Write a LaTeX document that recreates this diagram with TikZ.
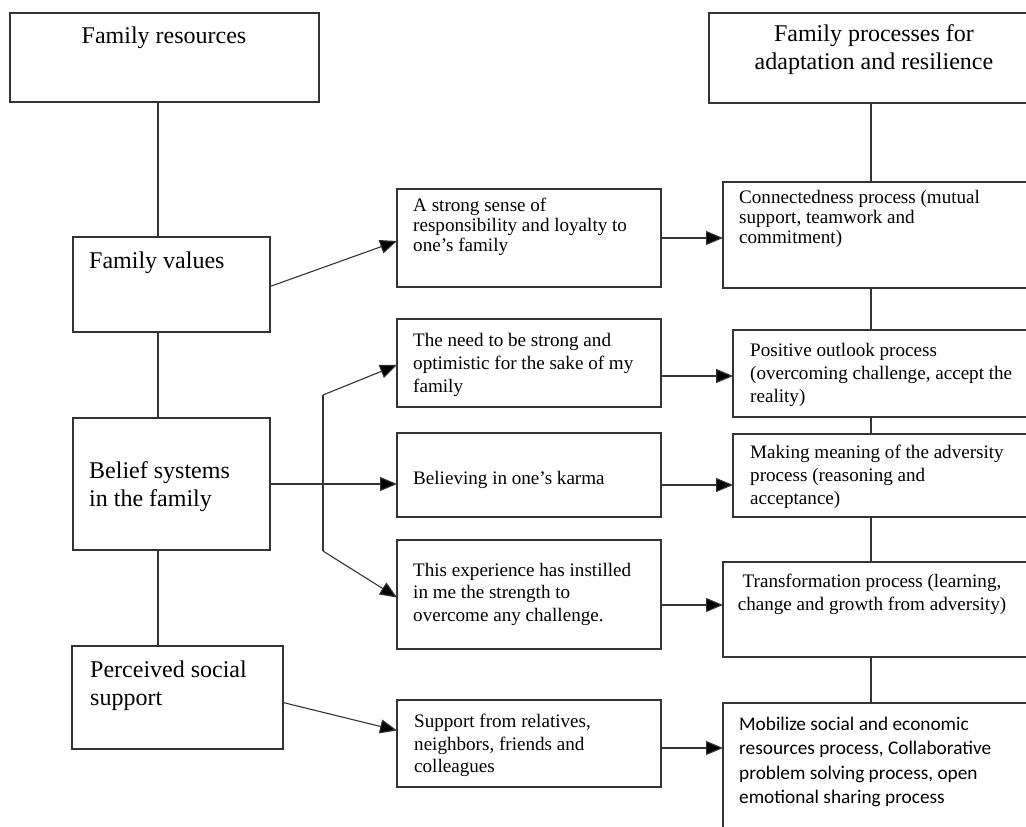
\documentclass[tikz,border=0pt]{standalone}
\usepackage{fontspec}
\setmainfont{Liberation Serif}
\newfontfamily\carlito{Carlito}
\usetikzlibrary{arrows.meta,calc}
\tikzset{
  box/.style={draw=black!80, line width=1.1pt, rectangle, inner sep=0pt, outer sep=0pt, anchor=north west},
  conn/.style={draw=black!80, line width=1.1pt},
  arr/.style={conn, -{Triangle[length=17pt,width=14pt,fill=black]}},
  big/.style={font=\fontsize{24}{28}\selectfont, inner sep=0pt, align=left, anchor=north west, text=black},
  small/.style={font=\fontsize{19.1}{#1}\selectfont, inner sep=0pt, align=left, anchor=north west, text=black},
  small/.default=20,
}
\begin{document}
\begin{tikzpicture}[x=1pt,y=-1pt]
\useasboundingbox (0,0) rectangle (1026,827);
\clip (0,0) rectangle (1026,827);
\fill[white] (0,0) rectangle (1026,827);
% left column
\node[box, minimum width=309pt, minimum height=89pt] (fr) at (10,13) {};
\node[box, minimum width=197pt, minimum height=95pt] (fv) at (73,237) {};
\node[box, minimum width=197pt, minimum height=132pt] (bs) at (73,418) {};
\node[box, minimum width=211pt, minimum height=103pt] (ps) at (72,646) {};
% middle column
\node[box, minimum width=264pt, minimum height=98pt] (mA) at (397,189) {};
\node[box, minimum width=264pt, minimum height=88pt] (mB) at (397,319) {};
\node[box, minimum width=264pt, minimum height=84pt] (mC) at (397,433) {};
\node[box, minimum width=264pt, minimum height=109pt] (mD) at (397,540) {};
\node[box, minimum width=264pt, minimum height=87pt] (mE) at (397,700) {};
% right column
\node[box, minimum width=340pt, minimum height=90pt] (rT) at (709,13) {};
\node[box, minimum width=330pt, minimum height=106pt] (rC) at (723,182) {};
\node[box, minimum width=320pt, minimum height=87pt] (rP) at (733,330) {};
\node[box, minimum width=320pt, minimum height=83pt] (rM) at (733,434) {};
\node[box, minimum width=330pt, minimum height=95pt] (rTr) at (723,562) {};
\node[box, minimum width=330pt, minimum height=160pt] (rB) at (723,703) {};
% texts
\node[big, anchor=center, align=center] (tfr) at (164,38) {Family resources};
\node[big, anchor=center, align=center] (trT) at (874,50) {Family processes for\\adaptation and resilience};
\node[big] (tfv) at (89,252) {Family values};
\node[big] (tbs) at (89,461) {Belief systems\\in the family};
\node[big] (tps) at (90,661) {Perceived social\\support};
\node[small=20] (tmA) at (413,198) {A strong sense of\\responsibility and loyalty to\\one's family};
\node[small=23] (tmB) at (413,333) {The need to be strong and\\optimistic for the sake of my\\family};
\node[small=23] (tmC) at (413,471) {Believing in one’s karma};
\node[small=22.5] (tmD) at (413,563) {This experience has instilled\\in me the strength to\\overcome any challenge.};
\node[small=22.5] (tmE) at (414,714) {Support from relatives,\\neighbors, friends and\\colleagues};
\node[small=20] (trC) at (739,190) {Connectedness process (mutual\\support, teamwork and\\commitment)};
\node[small=23] (trP) at (750,343) {Positive outlook process\\(overcoming challenge, accept the\\reality)};
\node[small=23] (trM) at (750,445) {Making meaning of the adversity\\process (reasoning and\\acceptance)};
\node[small=23, anchor=center, align=center] (trTr) at (872,594) {Transformation process (learning,\\change and growth from adversity)};
\node[inner sep=0pt, anchor=north west, align=left, font=\carlito\fontsize{19.3}{24.2}\selectfont] (trB) at (739,717) {Mobilize social and economic\\resources process, Collaborative\\problem solving process, open\\emotional sharing process};
% vertical connectors
\coordinate (lx) at (158,0);
\coordinate (vx) at (871,0);
\draw[conn] (fr.south -| lx) -- (fv.north -| lx);
\draw[conn] (fv.south -| lx) -- (bs.north -| lx);
\draw[conn] (bs.south -| lx) -- (ps.north -| lx);
\draw[conn] (rT.south -| vx) -- (rC.north -| vx);
\draw[conn] (rC.south -| vx) -- (rP.north -| vx);
\draw[conn] (rP.south -| vx) -- (rM.north -| vx);
\draw[conn] (rM.south -| vx) -- (rTr.north -| vx);
\draw[conn] (rTr.south -| vx) -- (rB.north -| vx);
% arrows
\coordinate (j) at (323,484);
\coordinate (jt) at (323,395);
\coordinate (jb) at (323,551);
\draw[arr] ([yshift=-2pt]fv.east) -- ([yshift=-3pt]mA.west);
\draw[arr] (mA.east) -- (mA.east -| rC.west);
\draw[conn] (bs.east) -- (j);
\draw[conn] (jt) -- (jb);
\draw[arr] (jt) -- ([yshift=-2pt]mB.west);
\draw[arr] (j) -- (j -| mC.west);
\draw[arr] (jb) -- ([yshift=-3pt]mD.west);
\draw[arr] ([yshift=-13pt]mB.east) -- ([yshift=-13pt]mB.east -| rP.west);
\draw[arr] ([yshift=-10pt]mC.east) -- ([yshift=-10pt]mC.east -| rM.west);
\draw[arr] ([yshift=-10.5pt]mD.east) -- ([yshift=-10.5pt]mD.east -| rTr.west);
\draw[arr] ([yshift=-5pt]ps.east) -- ([yshift=13pt]mE.west);
\draw[arr] ([yshift=-4.5pt]mE.east) -- ([yshift=-4.5pt]mE.east -| rB.west);
\end{tikzpicture}
\end{document}
